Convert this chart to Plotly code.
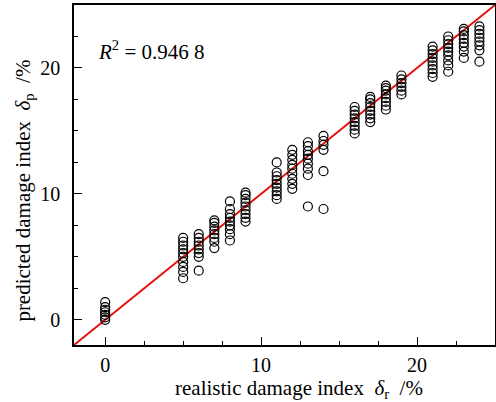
import plotly.graph_objects as go

# realistic damage index (%) groups and predicted values
groups = {
    0: [0.0, 0.2, 0.4, 0.6, 0.8, 1.0, 1.4],
    5: [3.3, 3.8, 4.2, 4.6, 5.0, 5.3, 5.6, 5.9, 6.2, 6.5],
    6: [3.9, 5.0, 5.3, 5.6, 5.9, 6.2, 6.5, 6.8],
    7: [5.7, 6.2, 6.5, 6.8, 7.1, 7.4, 7.7, 7.9],
    8: [6.3, 6.8, 7.2, 7.5, 7.8, 8.1, 8.4, 8.8, 9.4],
    9: [7.8, 8.1, 8.4, 8.7, 9.0, 9.3, 9.6, 9.9, 10.1],
    11: [9.6, 9.9, 10.2, 10.5, 10.8, 11.1, 11.4, 11.7, 12.5],
    12: [10.4, 10.8, 11.2, 11.6, 12.0, 12.3, 12.7, 13.1, 13.5],
    13: [9.0, 11.5, 12.0, 12.4, 12.8, 13.1, 13.4, 13.8, 14.1],
    14: [8.8, 11.8, 13.5, 13.9, 14.2, 14.6],
    16: [14.8, 15.1, 15.4, 15.7, 16.0, 16.3, 16.6, 16.9],
    17: [15.7, 16.0, 16.3, 16.6, 16.9, 17.2, 17.5, 17.7],
    18: [16.7, 17.0, 17.3, 17.6, 17.9, 18.2, 18.4, 18.6],
    19: [17.9, 18.2, 18.5, 18.8, 19.1, 19.4],
    21: [19.3, 19.6, 19.9, 20.2, 20.5, 20.8, 21.1, 21.4, 21.7],
    22: [19.7, 20.2, 20.6, 21.0, 21.3, 21.6, 21.9, 22.2, 22.5],
    23: [20.8, 21.3, 21.7, 22.0, 22.3, 22.6, 22.9, 23.1],
    24: [20.5, 21.4, 21.8, 22.1, 22.4, 22.7, 23.0, 23.3],
}
realistic = [k for k, vs in groups.items() for _ in vs]
predicted = [v for vs in groups.values() for v in vs]

fit_x = [-2, 25]
fit_y = [-2, 25]
r2_text = "<i>R</i><sup>2</sup> = 0.946 8"
x_title = "realistic damage index\u00a0 <i>δ</i><sub>r</sub>\u00a0 /%"
y_title = "predicted damage index\u00a0 <i>δ</i><sub>p</sub>\u00a0 /%"
x_tick_vals = [0, 10, 20]
y_tick_vals = [0, 10, 20]

font = "Liberation Serif, Times New Roman, serif"

fig = go.Figure()
fig.add_trace(go.Scatter(x=fit_x, y=fit_y, mode="lines",
                         line=dict(color="#e8120c", width=2), showlegend=False))
fig.add_trace(go.Scatter(x=realistic, y=predicted, mode="markers",
                         marker=dict(symbol="circle-open", size=9, color="black",
                                     line=dict(width=1.2, color="black")),
                         showlegend=False))

axis_common = dict(
    showgrid=False, zeroline=False, showline=True, linecolor="black", linewidth=1.5,
    mirror=True, ticks="inside", ticklen=8, tickwidth=1.2, tickcolor="black",
    tickfont=dict(family=font, size=20, color="black"),
    minor=dict(dtick=2.5, ticks="inside", ticklen=4, tickwidth=1.2, tickcolor="black"),
    range=[-2, 25], automargin=False,
)

fig.update_xaxes(**axis_common, tickvals=x_tick_vals, ticklabelstandoff=1)
fig.update_yaxes(**axis_common, tickvals=y_tick_vals, ticklabelstandoff=8)

fig.add_annotation(x=-0.6, y=21.4, xref="x", yref="y", text=r2_text, showarrow=False,
                   xanchor="left", yanchor="middle",
                   font=dict(family=font, size=21, color="black"))
fig.add_annotation(x=0.534, y=-0.128, xref="paper", yref="paper", text=x_title,
                   showarrow=False, xanchor="center", yanchor="middle",
                   font=dict(family=font, size=21, color="black"))
fig.add_annotation(x=-0.118, y=0.455, xref="paper", yref="paper", text=y_title,
                   showarrow=False, xanchor="center", yanchor="middle", textangle=-90,
                   font=dict(family=font, size=21, color="black"))

fig.update_layout(width=496, height=402, margin=dict(l=74, r=1, t=5, b=57),
                  plot_bgcolor="white", paper_bgcolor="white")

fig.write_html("out.html", config={"displayModeBar": False},
               post_script="document.body.style.margin='0';document.body.style.overflow='hidden';")
